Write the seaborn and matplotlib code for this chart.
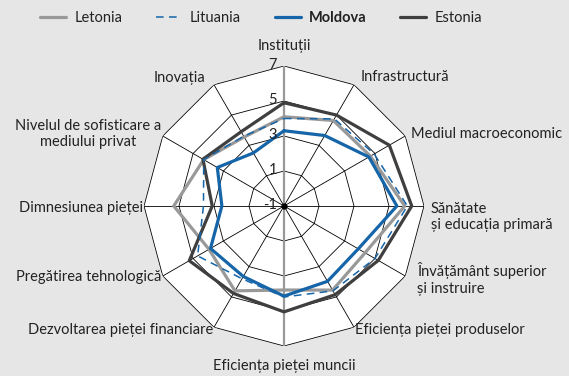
import numpy as np
import pandas as pd
import matplotlib
matplotlib.use("Agg")
import matplotlib.pyplot as plt
import seaborn as sns
from matplotlib.lines import Line2D

# ---------------- data ----------------
categories = [
    "Instituții", "Infrastructură", "Mediul macroeconomic",
    "Sănătate\nși educația primară", "Învățământ superior\nși instruire",
    "Eficiența pieței produselor", "Eficiența pieței muncii",
    "Dezvoltarea pieței financiare", "Pregătirea tehnologică",
    "Dimnesiunea pieței", "Nivelul de sofisticare a\nmediului privat", "Inovația",
]
letonia = [4.1, 4.64, 4.7, 5.9, 4.35, 4.55, 3.8, 4.6, 3.95, 5.3, 4.3, 3.55]
lituania = [4.0, 4.75, 4.95, 6.05, 5.0, 4.6, 4.2, 3.8, 4.7, 3.6, 4.3, 3.6]
moldova = [3.3, 3.65, 4.6, 5.45, 3.9, 3.97, 4.15, 3.65, 3.85, 2.55, 3.4, 2.5]
estonia = [4.9, 5.0, 5.95, 6.3, 5.22, 4.85, 5.05, 4.77, 5.25, 3.1, 4.35, 3.9]
series_names = ["Letonia", "Lituania", "Moldova", "Estonia"]
ring_values = [1, 3, 5, 7]
tick_labels = ["7", "5", "3", "1", "-1"]

# ---------------- style ----------------
sns.set_theme(style="white")
plt.rcParams["font.family"] = ["Lato", "DejaVu Sans"]
FS = 10.5
BG = "#e6e6e6"
C_LET = "#999999"
C_LIT = "#1565a8"
C_MOL = "#1565a8"
C_EST = "#3f3f3f"

W, H = 569, 376
fig = plt.figure(figsize=(W / 100, H / 100), dpi=100, facecolor=BG)


def fx(x):
    return x / W


def fy(y):
    return 1 - y / H


cx, cy, R = 284, 206, 140
ax = fig.add_axes([fx(cx - R), fy(cy + R), 2 * R / W, 2 * R / H], projection="polar")
ax.set_theta_zero_location("N")
ax.set_theta_direction(-1)
ax.set_ylim(-1, 7)
ax.patch.set_visible(False)
ax.spines["polar"].set_visible(False)
ax.grid(False)
ax.set_xticks([])
ax.set_yticks([])

n = len(categories)
theta = np.arange(n) * 2 * np.pi / n
closed = np.append(theta, theta[0])

# white web background + grid
ax.fill(closed, [7] * (n + 1), color="white", zorder=0)
for r in ring_values:
    ax.plot(closed, [r] * (n + 1), color="black", lw=0.6, zorder=1)
for i, t in enumerate(theta):
    if i in (0, 6):
        ax.plot([t, t], [-1, 7], color="#999999", lw=1.6, zorder=1.5)
    else:
        ax.plot([t, t], [-1, 7], color="black", lw=0.6, zorder=1)

# series
rows = []
for name, vals in zip(series_names, [letonia, lituania, moldova, estonia]):
    v = list(vals) + [vals[0]]
    for t, val in zip(closed, v):
        rows.append({"country": name, "theta": t, "value": val})
df = pd.DataFrame(rows)

styles = {
    "Letonia": dict(color=C_LET, lw=2.3, ls="-", z=3),
    "Estonia": dict(color=C_EST, lw=2.3, ls="-", z=4),
    "Moldova": dict(color=C_MOL, lw=2.3, ls="-", z=5),
    "Lituania": dict(color=C_LIT, lw=1.1, ls=(0, (5, 3.5)), z=6),
}
for name in ["Letonia", "Estonia", "Moldova", "Lituania"]:
    st = styles[name]
    sub = df[df["country"] == name]
    sns.lineplot(data=sub, x="theta", y="value", ax=ax, sort=False,
                 estimator=None, color=st["color"], lw=st["lw"],
                 linestyle=st["ls"], zorder=st["z"], legend=False)
ax.set_xlabel("")
ax.set_ylabel("")
ax.set_xticks([])
ax.set_yticks([])
ax.plot([0], [-1], "o", color="black", ms=3.5, zorder=7)

# radial tick labels
for lab in tick_labels:
    r = float(lab)
    ax.annotate(lab, xy=(0, r), xytext=(-5, 1), textcoords="offset points",
                ha="right", va="center", fontsize=FS, color="#222222", zorder=8)

# category labels (pixel anchors)
label_pos = [
    (284, 46, "center"), (361, 77, "left"), (411, 134, "left"),
    (431, 217, "left"), (417, 279, "left"), (355, 330, "left"),
    (284, 366, "center"), (213, 330, "right"), (161, 277, "right"),
    (143, 208, "right"), (88, 134, "center"), (205, 78, "right"),
]
for lab, (x, y, ha) in zip(categories, label_pos):
    fig.text(fx(x), fy(y), lab, ha=ha, va="center", fontsize=FS,
             color="#222222", linespacing=1.25, multialignment=ha)

# legend
handles = [
    Line2D([], [], color=C_LET, lw=2.3),
    Line2D([], [], color=C_LIT, lw=1.1, ls=(0, (5, 3.5))),
    Line2D([], [], color=C_MOL, lw=2.3),
    Line2D([], [], color=C_EST, lw=2.3),
]
leg = fig.legend(handles, series_names, ncol=4, loc="center",
                 bbox_to_anchor=(fx(261), fy(18)), frameon=False,
                 fontsize=FS, handlelength=1.8, handletextpad=0.55,
                 columnspacing=2.3)
for t in leg.get_texts():
    t.set_color("#222222")
    if t.get_text() == "Moldova":
        t.set_fontweight("bold")

fig.savefig("out.png", dpi=100, facecolor=BG)
